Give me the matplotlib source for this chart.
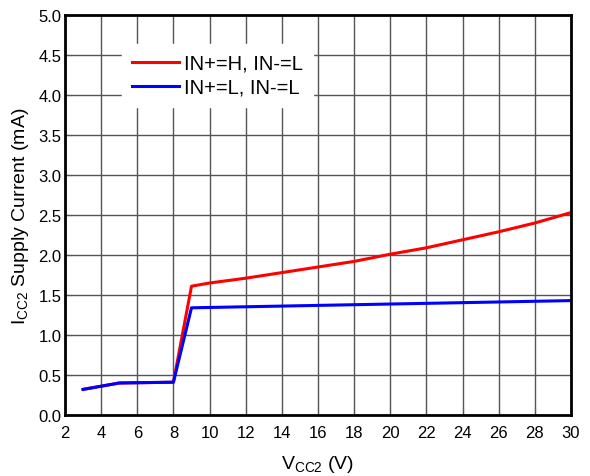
import matplotlib.pyplot as plt

plt.rcParams['font.family'] = ['Liberation Sans', 'DejaVu Sans']

# dados
vcc_azul = [3, 5, 8, 9, 30]
icc_azul = [0.32, 0.40, 0.41, 1.34, 1.43]

vcc_verm = [3, 5, 8, 9, 10, 12, 14, 16, 18, 20, 22, 24, 26, 28, 30]
icc_verm = [0.32, 0.40, 0.41, 1.61, 1.65, 1.71, 1.78, 1.85, 1.92, 2.01, 2.09, 2.19, 2.29, 2.40, 2.53]

xticks = list(range(2, 31, 2))
yticks = [0.0, 0.5, 1.0, 1.5, 2.0, 2.5, 3.0, 3.5, 4.0, 4.5, 5.0]

fig = plt.figure(figsize=(5.9, 4.77), dpi=100)
ax = fig.add_axes([65/590, 1-416/477, (571-65)/590, (416-16)/477])

ax.plot(vcc_verm, icc_verm, color='red', lw=2.2, label='IN+=H, IN-=L')
ax.plot(vcc_azul, icc_azul, color='blue', lw=2.2, label='IN+=L, IN-=L')

ax.set_xlim(2, 30)
ax.set_ylim(0, 5)
ax.set_xticks(xticks)
ax.set_yticks(yticks)
ax.set_yticklabels([f'{v:.1f}' for v in yticks])
ax.tick_params(direction='in', labelsize=12, length=5, color='#555555')
ax.tick_params(axis='x', pad=7)
ax.tick_params(axis='y', pad=2.5)
ax.grid(True, color='#555555', lw=1)
for s in ax.spines.values():
    s.set_linewidth(2)
    s.set_color('black')

ax.set_xlabel(r'$\mathregular{V_{CC2}}$ (V)', fontsize=14, labelpad=9.5)
ax.set_ylabel(r'$\mathregular{I_{CC2}}$ Supply Current (mA)', fontsize=14, labelpad=5)

leg = ax.legend(loc='upper left', bbox_to_anchor=(0.113, 0.928), fontsize=14.5,
                frameon=True, fancybox=False, edgecolor='white', framealpha=1,
                handlelength=2.3, handletextpad=0.25, labelspacing=0.25,
                borderpad=0.5, borderaxespad=0)

fig.savefig('out.png', dpi=100)
